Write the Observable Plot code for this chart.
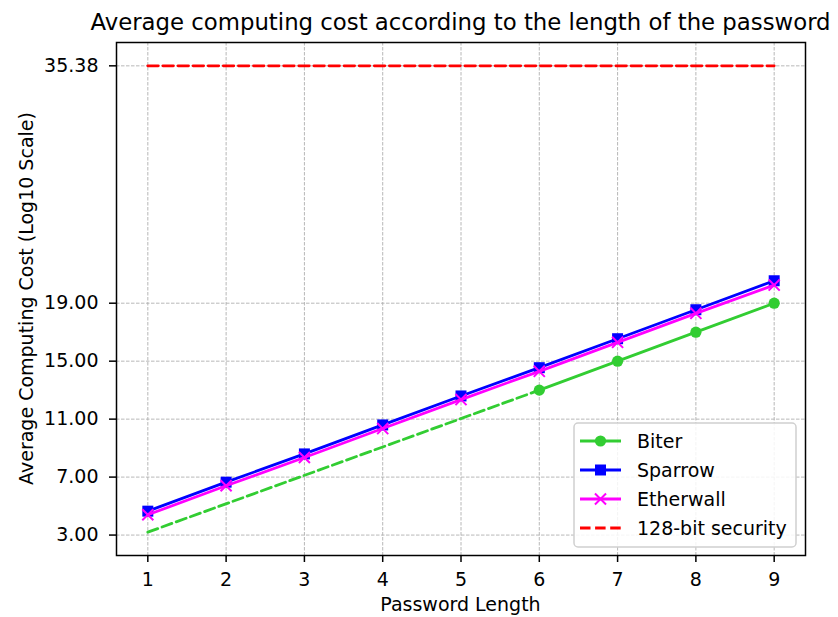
<!DOCTYPE html>
<html>
<head>
<meta charset="utf-8">
<script src="https://cdn.jsdelivr.net/npm/d3@7"></script>
<script src="https://cdn.jsdelivr.net/npm/@observablehq/plot@0.6"></script>
<style>
  html, body { margin: 0; padding: 0; background: #fff; }
  #chart { width: 838px; height: 617px; }
  svg text { font-family: "DejaVu Sans", sans-serif; }
</style>
</head>
<body>
<div id="chart"></div>
<script>
// ---- data ----
const passwordLengths = [1, 2, 3, 4, 5, 6, 7, 8, 9];
const sparrowCost   = [4.65, 6.65, 8.6, 10.6, 12.6, 14.55, 16.55, 18.55, 20.55];
const etherwallCost = [4.4, 6.4, 8.35, 10.35, 12.35, 14.3, 16.3, 18.3, 20.25];
const biterLengths  = [6, 7, 8, 9];
const biterCost     = [13.0, 15.0, 17.0, 19.0];
const biterDashLengths = [1, 6];
const biterDashCost    = [3.2, 13.0];
const securityLengths  = [1, 9];
const securityLevel    = 35.38;
const yTicks = [3, 7, 11, 15, 19, 35.38];
const xTicks = [1, 2, 3, 4, 5, 6, 7, 8, 9];
const seriesNames = ["Biter", "Sparrow", "Etherwall", "128-bit security"];
const titleText = "Average computing cost according to the length of the password";
const xLabel = "Password Length";
const yLabel = "Average Computing Cost (Log10 Scale)";

// ---- tables ----
const sparrow = passwordLengths.map((x, i) => ({x, y: sparrowCost[i]}));
const etherwall = passwordLengths.map((x, i) => ({x, y: etherwallCost[i]}));
const biter = biterLengths.map((x, i) => ({x, y: biterCost[i]}));
const biterDash = biterDashLengths.map((x, i) => ({x, y: biterDashCost[i]}));
const security = securityLengths.map(x => ({x, y: securityLevel}));

const colors = {Biter: "#32cd32", Sparrow: "#0000ff", Etherwall: "#ff00ff", Security: "#ff0000"};
const LW = 2.8;
const DASH = "10.5,4.6";

const W = 838, H = 617, mL = 116, mR = 33, mT = 42, mB = 62;

const plot = Plot.plot({
  width: W, height: H,
  marginLeft: mL, marginRight: mR, marginTop: mT, marginBottom: mB,
  style: {fontFamily: "DejaVu Sans", fontSize: "19px", color: "#000", background: "#fff"},
  x: {domain: [0.6, 9.4]},
  y: {domain: [1.59, 36.99]},
  marks: [
    Plot.gridX(xTicks, {stroke: "#b0b0b0", strokeOpacity: 1, strokeWidth: 0.9, strokeDasharray: "3.5,1.5"}),
    Plot.gridY(yTicks, {stroke: "#b0b0b0", strokeOpacity: 1, strokeWidth: 0.9, strokeDasharray: "3.5,1.5"}),
    Plot.axisX(xTicks, {tickSize: 7, tickPadding: 9.5, label: null, fontSize: 19, strokeWidth: 1.5}),
    Plot.axisY(yTicks, {tickSize: 7, tickPadding: 11, label: null, fontSize: 19, strokeWidth: 1.5, tickFormat: d => d.toFixed(2)}),
    Plot.line(biterDash, {x: "x", y: "y", stroke: colors.Biter, strokeWidth: LW, strokeDasharray: DASH}),
    Plot.line(biter, {x: "x", y: "y", stroke: colors.Biter, strokeWidth: LW}),
    Plot.dot(biter, {x: "x", y: "y", fill: colors.Biter, r: 5.6, symbol: "circle"}),
    Plot.line(sparrow, {x: "x", y: "y", stroke: colors.Sparrow, strokeWidth: LW}),
    Plot.dot(sparrow, {x: "x", y: "y", fill: colors.Sparrow, r: 6.2, symbol: "square"}),
    Plot.line(etherwall, {x: "x", y: "y", stroke: colors.Etherwall, strokeWidth: LW}),
    Plot.dot(etherwall, {x: "x", y: "y", stroke: colors.Etherwall, fill: "none", strokeWidth: 2, r: 5.1, symbol: "times"}),
    Plot.line(security, {x: "x", y: "y", stroke: colors.Security, strokeWidth: LW, strokeDasharray: DASH}),
    Plot.frame({stroke: "#000", strokeWidth: 1.5})
  ]
});
document.getElementById("chart").appendChild(plot);

const svg = d3.select(plot);
const cx = (mL + (W - mR)) / 2;

// title
svg.append("text").attr("x", cx).attr("y", 30).attr("text-anchor", "middle")
  .attr("font-size", 22.8).attr("fill", "#000").text(titleText);
// x label
svg.append("text").attr("x", cx).attr("y", 611).attr("text-anchor", "middle")
  .attr("font-size", 19).attr("fill", "#000").text(xLabel);
// y label
svg.append("text").attr("transform", `translate(33,${(mT + H - mB) / 2}) rotate(-90)`)
  .attr("text-anchor", "middle").attr("font-size", 19).attr("fill", "#000").text(yLabel);

// legend
const lg = svg.append("g");
lg.append("rect").attr("x", 574).attr("y", 423).attr("width", 222).attr("height", 124)
  .attr("rx", 4).attr("fill", "#fff").attr("fill-opacity", 0.85)
  .attr("stroke", "#d0d0d0").attr("stroke-width", 1.5);
const rowY = [441, 470, 499, 528];
const styles = [
  {c: colors.Biter, sym: d3.symbolCircle, size: Math.PI * 5.6 * 5.6, fill: true},
  {c: colors.Sparrow, sym: d3.symbolSquare, size: Math.PI * 6.2 * 6.2, fill: true},
  {c: colors.Etherwall, sym: d3.symbolTimes, size: Math.PI * 5.1 * 5.1, fill: false},
  {c: colors.Security, sym: null, dash: true}
];
seriesNames.forEach((name, i) => {
  const s = styles[i], y = rowY[i];
  lg.append("line").attr("x1", 580).attr("x2", 621).attr("y1", y).attr("y2", y)
    .attr("stroke", s.c).attr("stroke-width", LW)
    .attr("stroke-dasharray", s.dash ? DASH : null);
  if (s.sym) {
    const p = lg.append("path").attr("d", d3.symbol(s.sym, s.size)())
      .attr("transform", `translate(600.5,${y})`);
    if (s.fill) p.attr("fill", s.c); else p.attr("fill", "none").attr("stroke", s.c).attr("stroke-width", 2);
  }
  lg.append("text").attr("x", 637).attr("y", y).attr("dy", "0.35em")
    .attr("text-anchor", "start")
    .attr("font-size", 19).attr("fill", "#000").text(name);
});
</script>
</body>
</html>
